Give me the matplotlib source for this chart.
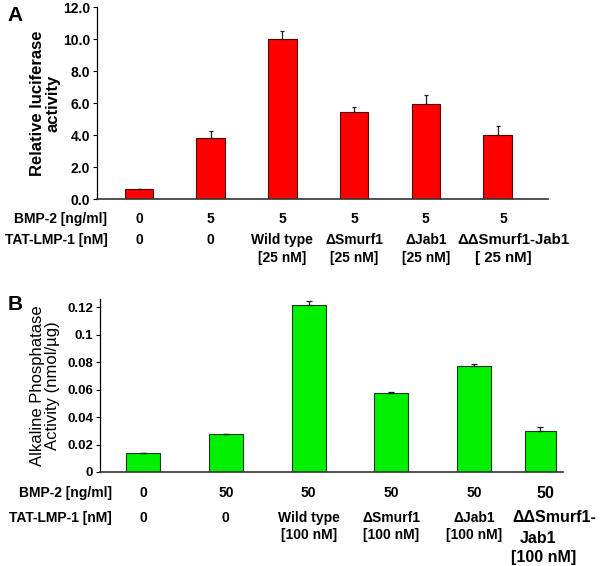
import numpy as np
import matplotlib.pyplot as plt

plt.rcParams['font.family'] = ['Liberation Sans', 'DejaVu Sans']

# panel A: relative luciferase activity
lum_values = [0.62, 3.81, 10.0, 5.43, 5.92, 4.02]
lum_errors = [0.0, 0.45, 0.5, 0.35, 0.6, 0.55]
bmp_a = ['0', '5', '5', '5', '5', '5']
tat_a = [['0'], ['0'], ['Wild type', '[25 nM]'], ['\u0394Smurf1', '[25 nM]'],
         ['\u0394Jab1', '[25 nM]'], ['\u0394\u0394Smurf1-Jab1', '[ 25 nM]']]
ticks_a = [0, 2, 4, 6, 8, 10, 12]

# panel B: alkaline phosphatase activity
alp_values = [0.0139, 0.0275, 0.1219, 0.0577, 0.0774, 0.0299]
alp_errors = [0.0, 0.0, 0.0027, 0.0007, 0.0014, 0.0027]
bmp_b = ['0', '50', '50', '50', '50', '50']
tat_b = [['0'], ['0'], ['Wild type', '[100 nM]'], ['\u0394Smurf1', '[100 nM]'],
         ['\u0394Jab1', '[100 nM]'], ['\u0394\u0394Smurf1-', 'Jab1', '[100 nM]']]
ticks_b = [0, 0.02, 0.04, 0.06, 0.08, 0.1, 0.12]
ticklabels_b = ['0', '0.02', '0.04', '0.06', '0.08', '0.1', '0.12']

fig = plt.figure(figsize=(6, 5.66), dpi=100)


def style_axis(ax):
    ax.spines['top'].set_visible(False)
    ax.spines['right'].set_visible(False)
    ax.spines['left'].set_linewidth(0.9)
    ax.spines['bottom'].set_linewidth(1.2)
    ax.spines['bottom'].set_color('#333333')
    ax.set_xticks([])
    ax.tick_params(axis='y', direction='out', length=3, width=0.8, pad=2)


# ---- A ----
axA = fig.add_axes([0.1617, 0.6484, 0.7513, 0.3392])
xa = np.arange(len(lum_values))
axA.bar(xa, lum_values, width=0.40, color='#ff0000', edgecolor='#5a0000', linewidth=0.8,
        yerr=[np.zeros(6), lum_errors], error_kw=dict(ecolor='#222222', elinewidth=0.9,
                                                     capsize=1.5, capthick=0.9))
axA.set_xlim(-0.585, 5.70)
axA.set_ylim(0, 12)
axA.set_yticks(ticks_a)
axA.set_yticklabels(['%.1f' % t for t in ticks_a], fontsize=10, fontweight='bold')
style_axis(axA)
axA.set_ylabel('Relative luciferase\nactivity', fontsize=12, fontweight='bold',
               linespacing=1.0, labelpad=2)
fig.text(0.013, 0.972, 'A', fontsize=15, fontweight='bold', va='center')

axA.text(0.023, -0.104, 'BMP-2 [ng/ml]', transform=axA.transAxes, ha='right', va='center',
         fontsize=10, fontweight='bold')
axA.text(0.023, -0.212, 'TAT-LMP-1 [nM]', transform=axA.transAxes, ha='right', va='center',
         fontsize=10, fontweight='bold')
rows_a = [-0.212, -0.306]
tr = axA.get_xaxis_transform()
for i in range(6):
    xs = [xa[i]] * 2
    fs = 10
    if i == 5:
        xs = [xa[i] + 0.22, xa[i] + 0.08]
        fs = 10.8
    axA.text(xa[i] + (0.08 if i == 5 else 0), -0.104, bmp_a[i], transform=tr,
             ha='center', va='center', fontsize=10, fontweight='bold')
    for j, line in enumerate(tat_a[i]):
        axA.text(xs[j], rows_a[j], line, transform=tr, ha='center', va='center',
                 fontsize=fs, fontweight='bold')

# ---- B ----
axB = fig.add_axes([0.1667, 0.1661, 0.7713, 0.3056])
xb = np.arange(len(alp_values), dtype=float)
xb[-1] = 4.8
widths = [0.41, 0.41, 0.41, 0.41, 0.41, 0.37]
axB.bar(xb, alp_values, width=widths, color='#00f000', edgecolor='#1a3a1a', linewidth=0.8,
        yerr=[np.zeros(6), alp_errors], error_kw=dict(ecolor='#222222', elinewidth=0.9,
                                                     capsize=2, capthick=0.9))
axB.set_xlim(-0.52, 5.07)
axB.set_ylim(0, 0.126)
axB.set_yticks(ticks_b)
axB.set_yticklabels(ticklabels_b, fontsize=9.5, fontweight='bold')
style_axis(axB)
axB.set_ylabel('Alkaline Phosphatase\nActivity (nmol/\u00b5g)', fontsize=12,
               linespacing=1.0, labelpad=5)
fig.text(0.013, 0.462, 'B', fontsize=15, fontweight='bold', va='center')

axB.text(0.025, -0.121, 'BMP-2 [ng/ml]', transform=axB.transAxes, ha='right', va='center',
         fontsize=10, fontweight='bold')
axB.text(0.025, -0.266, 'TAT-LMP-1 [nM]', transform=axB.transAxes, ha='right', va='center',
         fontsize=10, fontweight='bold')
rows_b = [-0.266, -0.364]
rows_b_last = [-0.266, -0.385, -0.494]
trb = axB.get_xaxis_transform()
for i in range(6):
    if i == 5:
        axB.text(xb[i] + 0.06, -0.123, bmp_b[i], transform=trb, ha='center', va='center',
                 fontsize=11.5, fontweight='bold')
        xs = [xb[i] + 0.17, xb[i] - 0.03, xb[i] + 0.04]
        for j, line in enumerate(tat_b[i]):
            axB.text(xs[j], rows_b_last[j], line, transform=trb, ha='center', va='center',
                     fontsize=11.5, fontweight='bold')
    else:
        axB.text(xb[i], -0.121, bmp_b[i], transform=trb, ha='center', va='center',
                 fontsize=10, fontweight='bold')
        for j, line in enumerate(tat_b[i]):
            axB.text(xb[i], rows_b[j], line, transform=trb, ha='center', va='center',
                     fontsize=10, fontweight='bold')

fig.savefig('out.png', dpi=100)
